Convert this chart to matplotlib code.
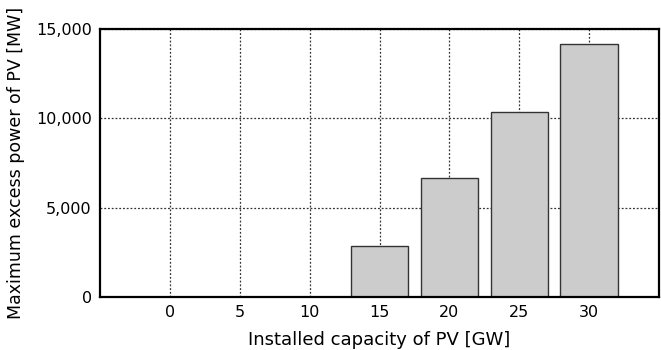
import numpy as np
import matplotlib.pyplot as plt
from matplotlib.ticker import FuncFormatter

capacity = [0, 5, 10, 15, 20, 25, 30]
excess_power = [0, 0, 0, 2870, 6660, 10350, 14140]

plt.rcParams['font.family'] = ['DejaVu Sans']
plt.rcParams['font.size'] = 11

fig = plt.figure(figsize=(6.61, 3.5), dpi=100)
ax = fig.add_axes([100 / 661, 53 / 350, 559 / 661, 268 / 350])

ax.bar(capacity, excess_power, width=4.1, color="#cccccc", edgecolor="#333333",
       linewidth=1.0, zorder=3)

ax.set_xlim(-5, 35)
ax.set_ylim(0, 15000)
ax.set_xticks(capacity)
ax.set_yticks([0, 5000, 10000, 15000])
ax.yaxis.set_major_formatter(FuncFormatter(lambda v, p: f"{int(v):,}"))
ax.tick_params(length=0, pad=6, labelsize=11.5)
ax.grid(True, linestyle=(0, (1.5, 1.5)), color="#333333", linewidth=0.9, zorder=0)
for s in ax.spines.values():
    s.set_linewidth(1.6)
    s.set_zorder(4)

ax.set_xlabel("Installed capacity of PV [GW]", fontsize=13, labelpad=8)
ax.set_ylabel("Maximum excess power of PV [MW]", fontsize=12.5, labelpad=8)

fig.savefig("out.png", dpi=100)
